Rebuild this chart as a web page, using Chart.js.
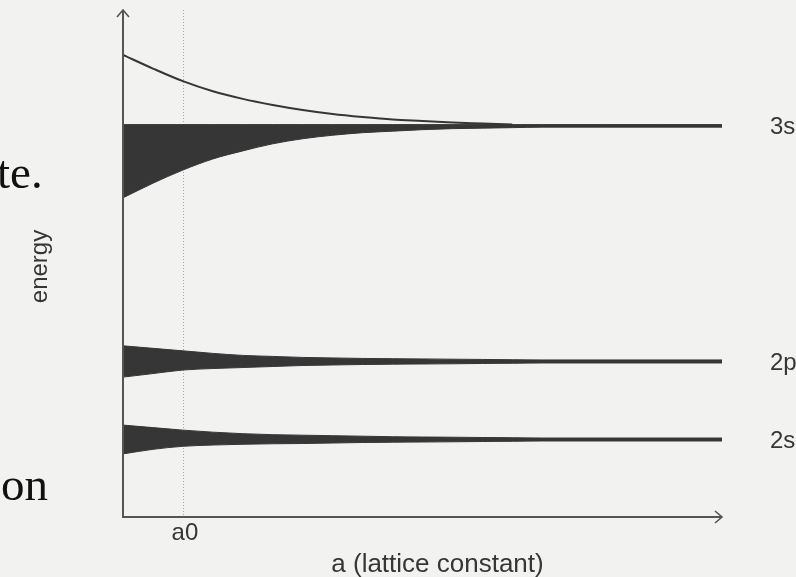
<!DOCTYPE html>
<html>
<head>
<meta charset="utf-8">
<script src="https://cdn.jsdelivr.net/npm/chart.js@4/dist/chart.umd.min.js"></script>
<style>
  html, body { margin: 0; padding: 0; background: #f2f2f1; }
  #wrap { position: relative; width: 796px; height: 577px; overflow: hidden; }
  canvas { position: absolute; left: 0; top: 0; }
  .page { position: absolute; font-family: "Liberation Serif", "DejaVu Serif", serif;
          font-size: 47px; line-height: 47px; color: #111; white-space: nowrap; }
</style>
</head>
<body>
<div id="wrap">
  <canvas id="c" width="796" height="577"></canvas>
  <span class="page" style="left:-3px; top:149px;">te.</span>
  <span class="page" style="left:1px; top:461px;">on</span>
</div>
<script>
// lattice constant samples (arbitrary units), a0 = equilibrium spacing
const latticeA = [0, 5, 10, 15, 20, 25, 30, 35, 40, 45, 50, 55, 60, 65, 70, 80, 90, 100];
const a0 = 10;

// 3s band: upper edge, lower edge
const band3sTop    = [77.7, 77.7, 77.7, 77.7, 77.7, 77.7, 77.7, 77.7, 77.7, 77.7, 77.7, 77.7, 77.7, 77.7, 77.7, 77.7, 77.7, 77.7];
const band3sBottom = [63.2, 66.1, 68.7, 70.9, 72.5, 73.9, 74.9, 75.6, 76.1, 76.4, 76.7, 76.9, 77.0, 77.1, 77.2, 77.2, 77.2, 77.2];

// antibonding 3s curve above the band
const upperA      = [0, 5, 10, 15, 20, 25, 30, 35, 40, 45, 50, 55, 60, 65];
const upper3s     = [91.5, 88.8, 86.3, 84.3, 82.8, 81.6, 80.6, 79.8, 79.2, 78.7, 78.4, 78.1, 77.9, 77.7];

// 2p band
const band2pTop    = [33.9, 33.4, 32.9, 32.4, 32.0, 31.8, 31.6, 31.5, 31.4, 31.35, 31.3, 31.25, 31.2, 31.15, 31.1, 31.1, 31.1, 31.1];
const band2pBottom = [27.7, 28.4, 29.1, 29.4, 29.6, 29.8, 30.0, 30.1, 30.2, 30.26, 30.3, 30.34, 30.4, 30.44, 30.5, 30.5, 30.5, 30.5];

// 2s band
const band2sTop    = [18.2, 17.7, 17.2, 16.8, 16.5, 16.3, 16.2, 16.1, 16.0, 15.9, 15.84, 15.8, 15.74, 15.7, 15.64, 15.64, 15.64, 15.64];
const band2sBottom = [12.5, 13.4, 14.0, 14.25, 14.4, 14.5, 14.55, 14.65, 14.75, 14.81, 14.85, 14.89, 14.95, 14.99, 15.05, 15.05, 15.05, 15.05];

// level names and their isolated-atom energies (right end)
const levelNames  = ["3s", "2p", "2s"];
const levelEnergy = [77.45, 30.8, 15.35];

const xTitle = "a (lattice constant)";
const yTitle = "energy";
const a0Label = "a0";

const ink = "#363636";
const axisInk = "#555555";
const textInk = "#363636";

function pts(xs, ys) { return xs.map((x, i) => ({ x: x, y: ys[i] })); }

function bandPair(top, bottom) {
  return [
    { data: pts(latticeA, top), borderColor: ink, backgroundColor: ink, borderWidth: 1,
      pointRadius: 0, fill: false, cubicInterpolationMode: "monotone" },
    { data: pts(latticeA, bottom), borderColor: ink, backgroundColor: ink, borderWidth: 1,
      pointRadius: 0, fill: "-1", cubicInterpolationMode: "monotone" }
  ];
}

const annotate = {
  id: "annotate",
  beforeDatasetsDraw(chart) {
    const { ctx, chartArea, scales } = chart;
    const xa = scales.x.getPixelForValue(a0);
    ctx.save();
    ctx.strokeStyle = "#a8a8a8";
    ctx.lineWidth = 1;
    ctx.setLineDash([1, 2]);
    ctx.beginPath();
    ctx.moveTo(Math.round(xa) + 0.5, chartArea.top - 2);
    ctx.lineTo(Math.round(xa) + 0.5, chartArea.bottom);
    ctx.stroke();
    ctx.restore();
  },
  afterDatasetsDraw(chart) {
    const { ctx, chartArea, scales } = chart;
    const L = chartArea.left, R = chartArea.right, T = chartArea.top, B = chartArea.bottom;
    ctx.save();
    // axes with open arrowheads
    ctx.strokeStyle = axisInk;
    ctx.lineWidth = 2;
    ctx.lineCap = "butt";
    ctx.beginPath();
    ctx.moveTo(L, B + 1);
    ctx.lineTo(L, T - 2);
    ctx.moveTo(L - 1, B);
    ctx.lineTo(R, B);
    ctx.stroke();
    ctx.lineWidth = 1.6;
    ctx.beginPath();
    ctx.moveTo(L - 6, T + 5);
    ctx.lineTo(L, T - 2);
    ctx.lineTo(L + 6, T + 5);
    ctx.moveTo(R - 7, B - 6);
    ctx.lineTo(R, B);
    ctx.lineTo(R - 7, B + 6);
    ctx.stroke();

    // level names at the right
    ctx.fillStyle = textInk;
    ctx.font = '24px "Liberation Sans", Arial, sans-serif';
    ctx.textAlign = "left";
    ctx.textBaseline = "alphabetic";
    levelNames.forEach((name, i) => {
      const y = scales.y.getPixelForValue(levelEnergy[i]);
      ctx.fillText(name, R + 48, y + 8.5);
    });

    // a0 tick label and axis titles
    ctx.textAlign = "center";
    ctx.fillText(a0Label, scales.x.getPixelForValue(a0) + 2, B + 23);
    ctx.font = '26px "Liberation Sans", Arial, sans-serif';
    ctx.fillText(xTitle, (L + R) / 2 + 15, B + 55);
    ctx.font = '24px "Liberation Sans", Arial, sans-serif';
    ctx.translate(L - 76, (T + B) / 2 + 2);
    ctx.rotate(-Math.PI / 2);
    ctx.fillText(yTitle, 0, 0);
    ctx.restore();
  }
};

new Chart(document.getElementById("c"), {
  type: "line",
  data: {
    datasets: [
      ...bandPair(band3sTop, band3sBottom),
      ...bandPair(band2pTop, band2pBottom),
      ...bandPair(band2sTop, band2sBottom),
      { data: pts(upperA, upper3s), borderColor: ink, borderWidth: 2, pointRadius: 0,
        fill: false, cubicInterpolationMode: "monotone" }
    ]
  },
  options: {
    responsive: false,
    animation: false,
    layout: { padding: { left: 123, right: 74, top: 12, bottom: 60 } },
    scales: {
      x: { type: "linear", min: 0, max: 100, display: false },
      y: { type: "linear", min: 0, max: 100, display: false }
    },
    plugins: { legend: { display: false }, tooltip: { enabled: false } }
  },
  plugins: [annotate]
});
</script>
</body>
</html>
